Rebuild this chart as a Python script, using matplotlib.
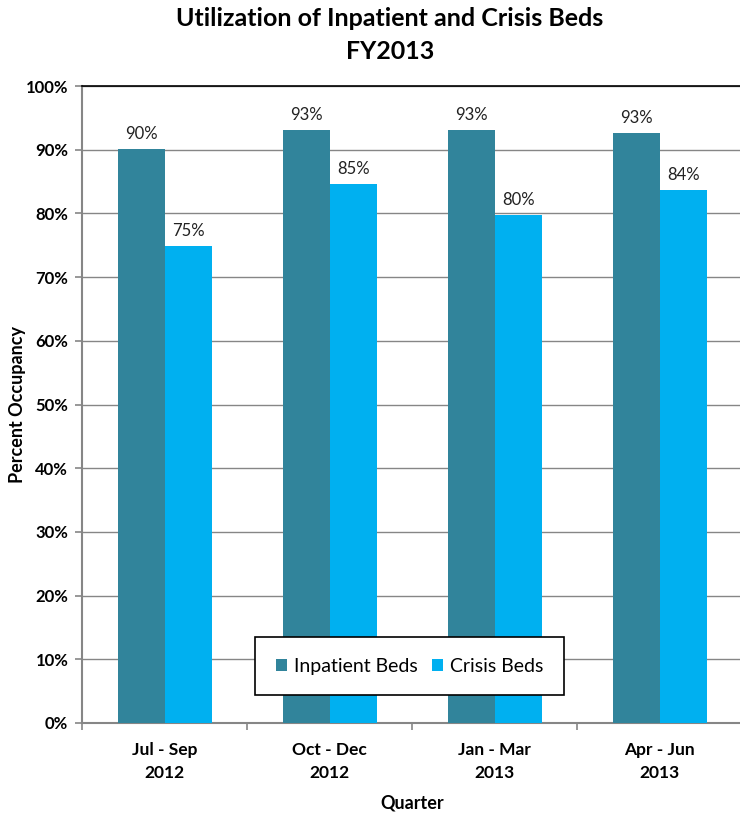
import numpy as np
import matplotlib.pyplot as plt
from matplotlib.ticker import FuncFormatter

plt.rcParams['font.family'] = ['Lato', 'DejaVu Sans']

# Chart data (percent occupancy per quarter)
quarters = ['Jul - Sep\n2012', 'Oct - Dec\n2012', 'Jan - Mar\n2013', 'Apr - Jun\n2013']
inpatient = [90.1, 93.1, 93.1, 92.7]
crisis = [74.9, 84.6, 79.7, 83.7]
yticks = [0, 10, 20, 30, 40, 50, 60, 70, 80, 90, 100]

fig = plt.figure(figsize=(7.4, 8.14), dpi=100)
ax = fig.add_axes([0.111, 0.1118, 0.892, 0.7825])

x = np.arange(len(quarters))
w = 0.285
b1 = ax.bar(x - w / 2, inpatient, w, color='#31849B', label='Inpatient Beds', zorder=3)
b2 = ax.bar(x + w / 2, crisis, w, color='#00B0F0', label='Crisis Beds', zorder=3)

for bars, vals in ((b1, inpatient), (b2, crisis)):
    for r, v in zip(bars, vals):
        ax.annotate('%d%%' % round(v), (r.get_x() + r.get_width() / 2, v),
                    xytext=(0, 5), textcoords='offset points',
                    ha='center', va='bottom', fontsize=12, color='#222222',
                    bbox=dict(facecolor='white', edgecolor='none', pad=1), zorder=4)

ax.set_xlim(-0.5, len(quarters) - 0.5)
ax.set_ylim(0, 100)
ax.set_yticks(yticks)
ax.yaxis.set_major_formatter(FuncFormatter(lambda v, p: '%d%%' % v))
ax.set_xticks(x)
ax.set_xticklabels(quarters, fontweight='bold', fontsize=12.5, linespacing=1.5)
ax.set_xticks(np.arange(len(quarters) + 1) - 0.5, minor=True)
ax.tick_params(axis='x', which='major', length=0, pad=14)
ax.tick_params(axis='x', which='minor', length=5, width=1.2, color='#868686')
ax.tick_params(axis='y', length=5, width=1.2, color='#868686', labelsize=12, pad=5)
for lbl in ax.get_yticklabels():
    lbl.set_fontweight('bold')

ax.grid(axis='y', color='#868686', linewidth=1, zorder=0)
ax.spines['right'].set_visible(False)
ax.spines['top'].set_color('black')
ax.spines['top'].set_linewidth(1.2)
ax.spines['left'].set_color('#868686')
ax.spines['left'].set_linewidth(1.5)
ax.spines['bottom'].set_color('#868686')
ax.spines['bottom'].set_linewidth(1.5)

fig.text(18 / 740, 0.503, 'Percent Occupancy', rotation=90, ha='center', va='center',
         fontsize=13, fontweight='bold')
ax.set_xlabel('Quarter', fontsize=13, fontweight='bold', labelpad=10)

fig.suptitle('Utilization of Inpatient and Crisis Beds\nFY2013', x=0.527, y=0.992,
             fontsize=18, fontweight='bold', linespacing=1.55)

leg = ax.legend(loc='lower center', bbox_to_anchor=(0.496, 0.044), ncol=2,
                fontsize=14, frameon=True, fancybox=False, handlelength=0.6,
                handleheight=0.6, handletextpad=0.35, columnspacing=0.7,
                borderpad=1.05, borderaxespad=0, edgecolor='black', framealpha=1)
leg.get_frame().set_linewidth(1.2)
leg.set_zorder(5)

fig.savefig('out.png', dpi=100)
